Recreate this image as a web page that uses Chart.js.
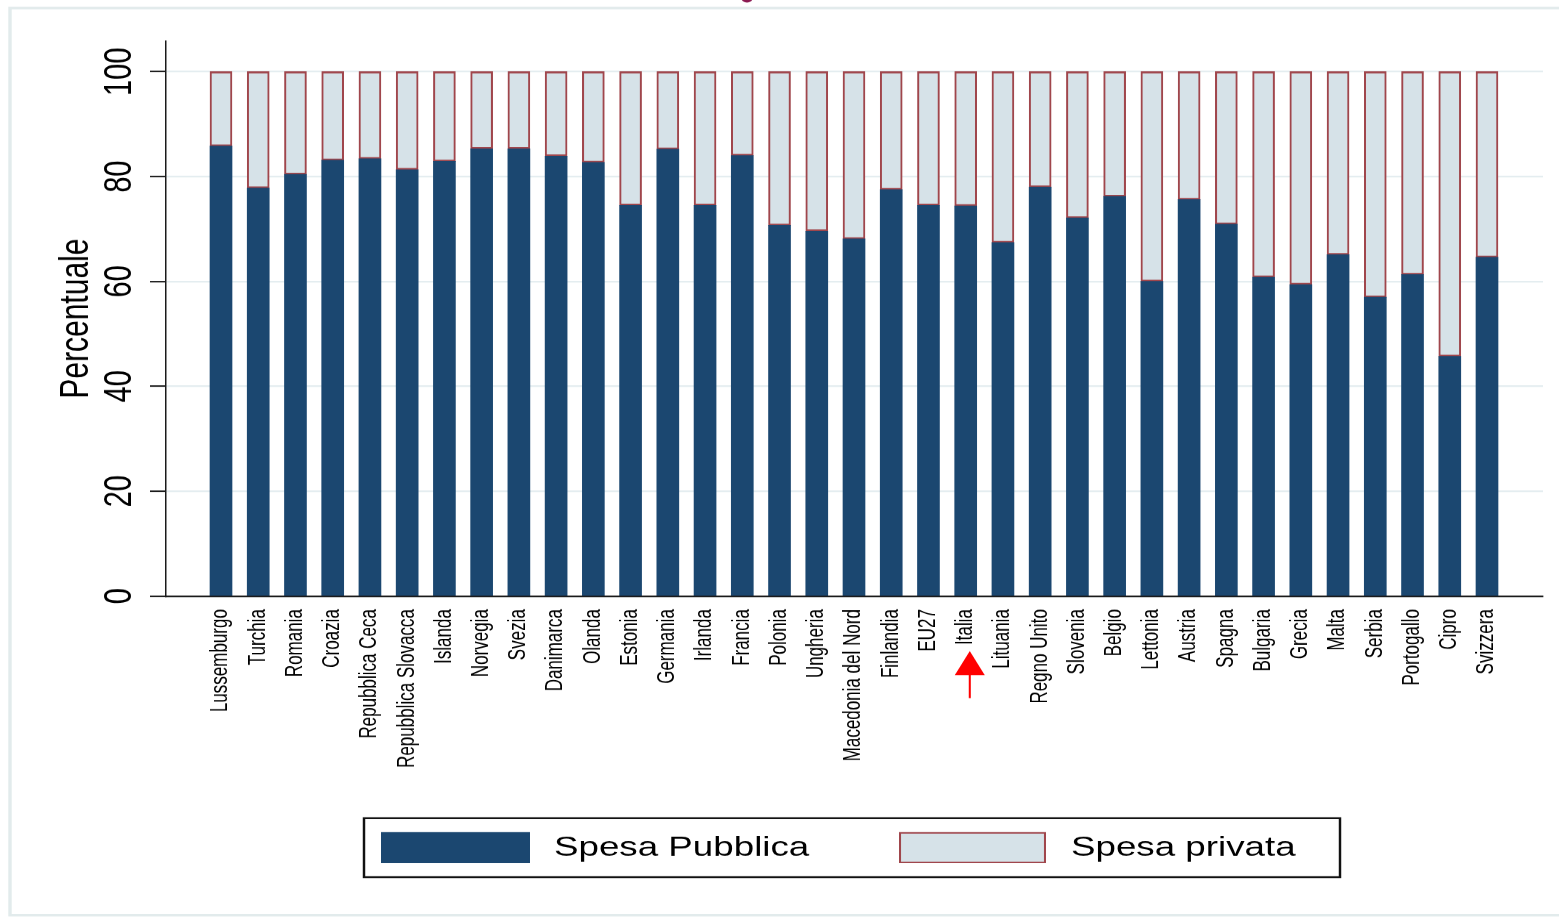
<!DOCTYPE html>
<html><head><meta charset="utf-8">
<script src="https://cdn.jsdelivr.net/npm/chart.js@4.4.1/dist/chart.umd.min.js"></script>
<style>html,body{margin:0;padding:0;background:#fff;overflow:hidden}
#c{display:block}</style>
</head><body>
<canvas id="c" width="1146" height="919" style="width:1559px;height:919px"></canvas>
<script>
// ---- data ----
const categories = ['Lussemburgo','Turchia','Romania','Croazia','Repubblica Ceca','Repubblica Slovacca','Islanda','Norvegia','Svezia','Danimarca','Olanda','Estonia','Germania','Irlanda','Francia','Polonia','Ungheria','Macedonia del Nord','Finlandia','EU27','Italia','Lituania','Regno Unito','Slovenia','Belgio','Lettonia','Austria','Spagna','Bulgaria','Grecia','Malta','Serbia','Portogallo','Cipro','Svizzera'];
const spesaPubblica = [85.8,77.8,80.4,83.1,83.4,81.3,82.9,85.3,85.3,83.9,82.7,74.5,85.2,74.5,84.0,70.7,69.6,68.1,77.5,74.5,74.4,67.4,78.0,72.1,76.2,60.0,75.6,70.9,60.8,59.4,65.1,57.0,61.3,45.7,64.6];
const spesaPrivata = [14.2,22.2,19.6,16.9,16.6,18.7,17.1,14.7,14.7,16.1,17.3,25.5,14.8,25.5,16.0,29.3,30.4,31.9,22.5,25.5,25.6,32.6,22.0,27.9,23.8,40.0,24.4,29.1,39.2,40.6,34.9,43.0,38.7,54.3,35.4];
const yTickValues = [0,20,40,60,80,100];
const seriesNames = ['Spesa Pubblica','Spesa privata'];
const yTitle = 'Percentuale';
const highlighted = 'Italia';

// ---- styling / layout ----
const W = 1146, H = 919, SX = 1559 / W;   // reference is stretched horizontally
const FONT = "'Liberation Sans', Arial, Helvetica, sans-serif";
Chart.defaults.font.family = FONT;
Chart.defaults.color = '#000';
const DARK = '#1b4770', LIGHT = '#d6e2e8', LIGHT_BORDER = '#a0464c', AXIS = '#1a1a1a';
const px = v => v / SX; // reference x -> logical x

const decor = {
  id: 'decor',
  beforeDraw(chart) {
    const ctx = chart.ctx;
    ctx.save();
    ctx.fillStyle = '#fff';
    ctx.fillRect(0, 0, W, H);
    ctx.strokeStyle = '#e2ebec';
    ctx.lineWidth = 2.5;
    ctx.strokeRect(px(10), 8, W, H - 12);
    ctx.fillStyle = '#8c1a52';
    ctx.beginPath(); ctx.arc(px(747), -1.5, 4, 0, Math.PI * 2); ctx.fill();
    ctx.restore();
  },
  afterDraw(chart) {
    const ctx = chart.ctx;
    const ds = chart.data.datasets;
    ctx.save();
    // legend box
    ctx.strokeStyle = '#111';
    ctx.lineWidth = 1.8;
    ctx.strokeRect(px(364), 818, px(1340) - px(364), 59);
    const sw = [[381, 530], [899, 1046]];
    const tx = [554, 1071];
    ctx.font = '27px ' + FONT;
    ctx.textBaseline = 'middle';
    ctx.textAlign = 'left';
    ds.forEach((d, i) => {
      const x0 = px(sw[i][0]), x1 = px(sw[i][1]);
      ctx.fillStyle = d.backgroundColor;
      ctx.fillRect(x0, 832, x1 - x0, 31);
      if (i === 1) {
        ctx.strokeStyle = d.borderColor; ctx.lineWidth = 1.5;
        ctx.strokeRect(x0 + 0.75, 832.75, x1 - x0 - 1.5, 29.5);
      }
      ctx.fillStyle = '#000';
      ctx.fillText(d.label, px(tx[i]), 848);
    });
    // arrow under highlighted country
    const xs = chart.scales.x;
    const ax = xs.getPixelForValue(categories.indexOf(highlighted)) + 3;
    ctx.fillStyle = '#ff0000';
    ctx.beginPath();
    ctx.moveTo(ax, 651); ctx.lineTo(ax + 11, 675); ctx.lineTo(ax - 11, 675); ctx.closePath(); ctx.fill();
    ctx.strokeStyle = '#ff0000'; ctx.lineWidth = 1.5;
    ctx.beginPath(); ctx.moveTo(ax, 674); ctx.lineTo(ax, 698); ctx.stroke();
    ctx.restore();
  }
};

new Chart(document.getElementById('c'), {
  type: 'bar',
  data: {
    datasets: [
      { label: seriesNames[0], data: categories.map((c, i) => ({ x: i, y: spesaPubblica[i] })),
        backgroundColor: DARK, borderWidth: 0, barThickness: 16 },
      { label: seriesNames[1], data: categories.map((c, i) => ({ x: i, y: spesaPrivata[i] })),
        backgroundColor: LIGHT, borderColor: LIGHT_BORDER, borderSkipped: false,
        borderWidth: { top: 2, bottom: 2, left: 1.5, right: 1.5 }, barThickness: 16 }
    ]
  },
  options: {
    responsive: false, animation: false, devicePixelRatio: SX, events: [],
    layout: { padding: { left: 0, right: W - px(1543), top: 41, bottom: 0 } },
    plugins: { legend: { display: false }, tooltip: { enabled: false } },
    scales: {
      x: {
        type: 'linear', stacked: true, min: -1.477, max: 35.504, offset: false,
        afterBuildTicks: s => { s.ticks = categories.map((c, i) => ({ value: i })); },
        afterFit: s => { s.height = H - 596; },
        grid: { display: false, drawTicks: false },
        border: { display: true, color: AXIS, width: 1.6 },
        ticks: { autoSkip: false, minRotation: 90, maxRotation: 90, padding: 13, color: '#000',
                 font: { size: 17 }, callback: v => categories[v] ?? '' }
      },
      y: {
        stacked: true, min: 0, max: 105.85,
        afterBuildTicks: s => { s.ticks = yTickValues.map(v => ({ value: v })); },
        afterFit: s => { s.width = px(166); },
        grid: { color: '#e4edf0', lineWidth: 1.6, drawTicks: true, tickLength: px(16),
                tickColor: AXIS, tickWidth: 1.5 },
        border: { display: true, color: AXIS, width: 1.1 },
        ticks: { minRotation: 90, maxRotation: 90, crossAlign: 'center', padding: -2, color: '#000',
                 font: { size: 29 } },
        title: { display: true, text: yTitle, color: '#000', font: { size: 30 },
                 padding: { top: 38.6, bottom: 0 } }
      }
    }
  },
  plugins: [decor]
});
</script>
</body></html>
